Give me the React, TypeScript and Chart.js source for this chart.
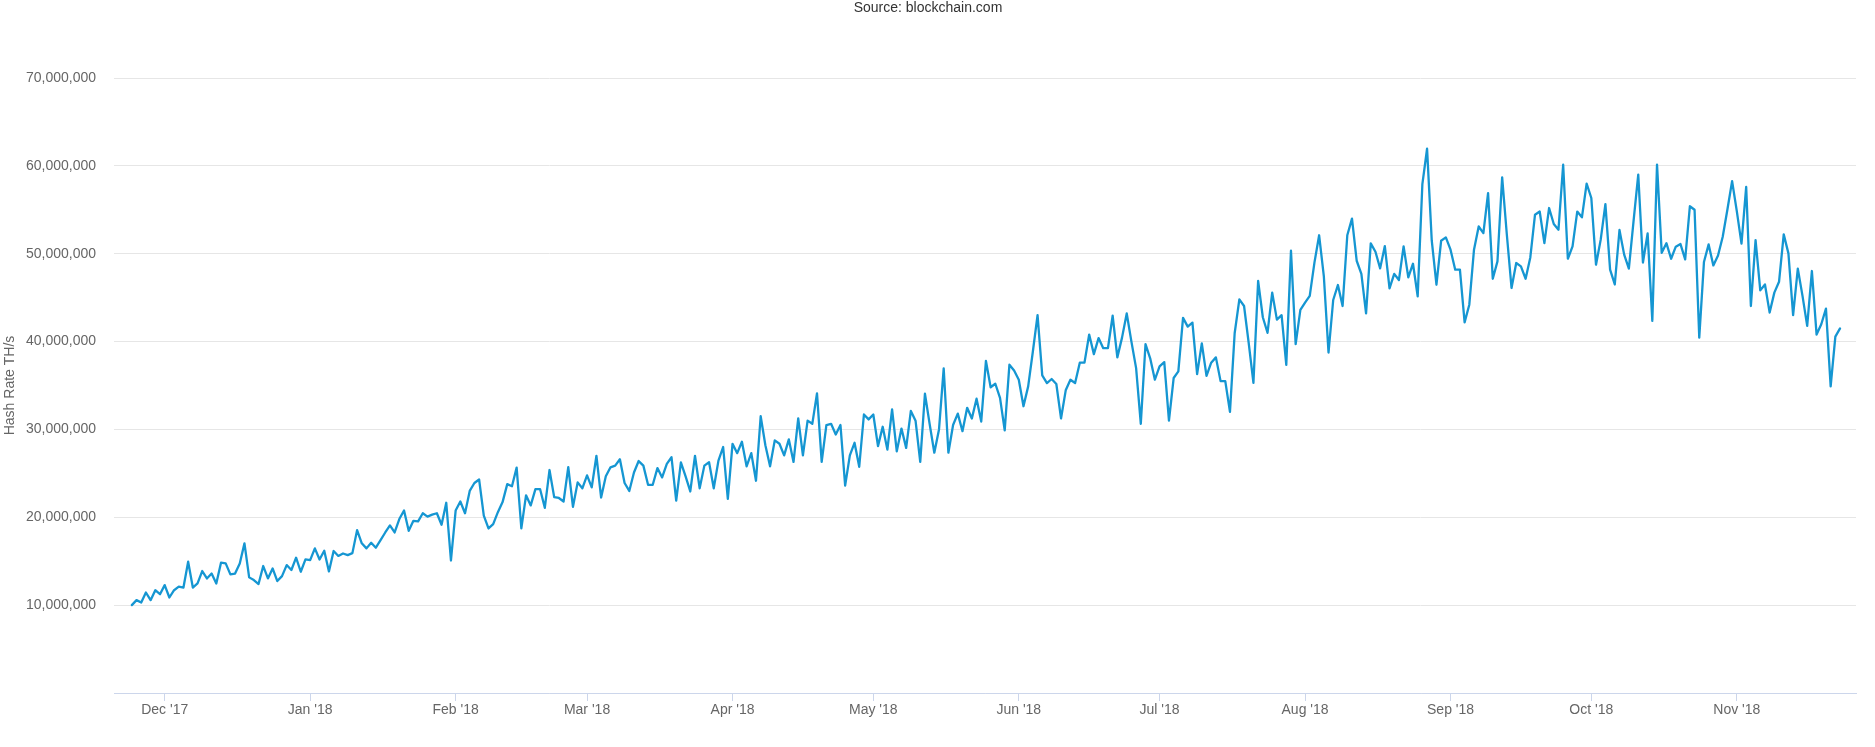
import React, { useEffect, useRef } from "react";
import { Chart, registerables } from "chart.js";

Chart.register(...registerables);

// First data day: 24 Nov 2017, one value per day (hash rate, millions of TH/s)
const START_DATE = Date.UTC(2017, 10, 24);

const hashRate: number[] = [
  // Nov 24 2017 ->
  10.0, 10.57, 10.3, 11.44, 10.57, 11.7, 11.25, 12.28, 10.87, 11.7,
  12.1, 12.0, 14.94, 12.0, 12.47, 13.88, 13.04, 13.6, 12.47, 14.83,
  14.75, 13.5, 13.6, 14.75, 17.03, 13.16, 12.85, 12.4, 14.45, 13.04,
  14.18, 12.74, 13.3, 14.56, 14.0, 15.4, 13.8, 15.2, 15.13, 16.46,
  15.2, 16.2, 13.84, 16.16, 15.6,
  15.88, 15.7, 15.92, 18.54, 17.04, 16.46, 17.1, 16.54, 17.4, 18.27,
  19.08, 18.27, 19.8, 20.77, 18.46, 19.6, 19.54, 20.46, 20.08, 20.3,
  20.46, 19.15, 21.65, 15.08, 20.77, 21.8, 20.46, 23.0, 23.9, 24.3,
  20.2, 18.73, 19.23, 20.58, 21.73, 23.77, 23.54, 25.65, 18.73, 22.5,
  21.35, 23.2, 23.2, 21.08, 25.38, 22.3,
  22.2, 21.8, 25.7, 21.2, 23.97, 23.3, 24.77, 23.4, 27.0, 22.25,
  24.66, 25.69, 25.88, 26.6, 23.9, 23.0, 25.1, 26.4, 25.88, 23.7,
  23.7, 25.6, 24.54, 26.07, 26.83, 21.9, 26.26, 24.66, 22.94, 27.0,
  23.3, 25.88, 26.26, 23.3, 26.45, 28.0, 22.1, 28.36, 27.3, 28.6,
  25.8, 27.3, 24.16, 31.5, 28.2, 25.8,
  28.75, 28.37, 27.04, 28.86, 26.3, 31.25, 27.04, 31.0, 30.64, 34.1,
  26.3, 30.5, 30.64, 29.43, 30.5, 23.6, 27.04, 28.48, 25.75, 31.7,
  31.14, 31.7, 28.1, 30.3, 27.7, 32.28, 27.5, 30.1, 27.9, 32.1,
  31.0, 26.3, 34.06, 30.64, 27.35, 30.0, 36.94, 27.35, 30.5, 31.8,
  29.8, 32.46, 31.25, 33.5,
  30.9, 37.8, 34.8, 35.2, 33.6, 29.9, 37.36, 36.7, 35.66, 32.64,
  34.9, 38.87, 43.0, 36.15, 35.28, 35.74, 35.17, 31.25, 34.45, 35.66,
  35.28, 37.6, 37.6, 40.8, 38.57, 40.4, 39.25, 39.25, 42.94, 38.2,
  40.45, 43.2, 40.0, 36.98, 30.64, 39.7, 38.1, 35.66, 37.17, 37.66,
  31.0, 35.85, 36.6, 42.7,
  41.7, 42.16, 36.3, 39.8, 36.1, 37.6, 38.2, 35.5, 35.5, 32.0,
  40.95, 44.8, 44.05, 39.8, 35.3, 46.9, 42.77, 41.0, 45.57, 42.5,
  43.0, 37.35, 50.34, 39.7, 43.6, 44.43, 45.2, 48.98, 52.1, 47.46,
  38.75, 44.73, 46.44, 44.05, 52.1, 54.0, 49.2, 47.7, 43.2, 51.17,
  50.23, 48.33, 50.87, 46.06, 47.7, 47.0,
  50.83, 47.3, 48.86, 45.14, 57.93, 61.95, 51.48, 46.47, 51.48, 51.86,
  50.46, 48.18, 48.18, 42.18, 44.2, 50.46, 53.1, 52.35, 56.9, 47.15,
  49.13, 58.7, 52.16, 46.1, 48.94, 48.56, 47.15, 49.58, 54.44, 54.8,
  51.2, 55.2, 53.38, 52.73, 60.13, 49.43, 50.83, 54.8, 54.14, 57.97,
  56.34, 48.75, 51.6, 55.65, 48.18,
  46.5, 52.7, 49.9, 48.3, 53.7, 59.0, 49.0, 52.3, 42.35, 60.15,
  50.1, 51.2, 49.43, 50.8, 51.1, 49.36, 55.4, 55.0, 40.45, 49.05,
  51.06, 48.67, 49.8, 51.93, 55.04, 58.26, 54.85, 51.14, 57.6, 44.05,
  51.55, 45.83, 46.5, 43.3, 45.57, 46.8, 52.2, 50.04, 43.0, 48.3,
  45.2, 41.78, 48.03, 40.8, 41.97, 43.75, 34.9, 40.57, 41.5,
];

const tickLabels: string[] = [
  "Dec '17", "Jan '18", "Feb '18", "Mar '18", "Apr '18", "May '18",
  "Jun '18", "Jul '18", "Aug '18", "Sep '18", "Oct '18", "Nov '18",
];
// [year, monthIndex] of each x tick (first of the month)
const tickMonths: [number, number][] = [
  [2017, 11], [2018, 0], [2018, 1], [2018, 2], [2018, 3], [2018, 4],
  [2018, 5], [2018, 6], [2018, 7], [2018, 8], [2018, 9], [2018, 10],
];
const yTickValues: number[] = [0, 10, 20, 30, 40, 50, 60, 70];

const DAY = 86400000;
const tickDays = tickMonths.map(([y, m]) => (Date.UTC(y, m, 1) - START_DATE) / DAY);

const FONT = "'Liberation Sans', Arial, Helvetica, sans-serif";

export default function App() {
  const ref = useRef<HTMLCanvasElement | null>(null);

  useEffect(() => {
    document.body.style.margin = "0";
    const canvas = ref.current;
    if (!canvas) return;
    const chart = new Chart(canvas, {
      type: "line",
      data: {
        datasets: [
          {
            label: "Hash Rate",
            data: hashRate.map((v, i) => ({ x: i, y: v * 1e6 })),
            borderColor: "#1596d2",
            backgroundColor: "#1596d2",
            borderWidth: 2.3,
            pointRadius: 0,
            tension: 0,
            borderJoinStyle: "round",
            borderCapStyle: "round",
            fill: false,
          },
        ],
      },
      options: {
        animation: false,
        responsive: false,
        events: [],
        layout: { padding: { top: 0, right: 19, bottom: 0, left: 0 } },
        plugins: {
          legend: { display: false },
          tooltip: { enabled: false },
          title: {
            display: true,
            text: "Source: blockchain.com",
            color: "#333333",
            font: { family: FONT, size: 14, weight: "normal" },
            padding: { top: 0, bottom: 61.2 },
          },
        },
        scales: {
          x: {
            type: "linear",
            min: -3.8,
            max: 367.4,
            afterBuildTicks: (scale: any) => {
              scale.ticks = tickDays.map((v) => ({ value: v }));
            },
            afterFit: (scale: any) => {
              scale.height = 54;
            },
            grid: {
              display: true,
              drawOnChartArea: false,
              drawTicks: true,
              tickLength: 8,
              tickColor: "#ccd6eb",
            },
            border: { display: true, color: "#ccd6eb", width: 1 },
            ticks: {
              autoSkip: false,
              maxRotation: 0,
              padding: 1,
              color: "#666666",
              font: { family: FONT, size: 14 },
              callback: (_v: any, index: number) => tickLabels[index],
            },
          },
          y: {
            type: "linear",
            min: 0,
            max: 70e6,
            afterBuildTicks: (scale: any) => {
              scale.ticks = yTickValues.map((v) => ({ value: v * 1e6 }));
            },
            afterFit: (scale: any) => {
              scale.width = 114;
            },
            grid: { color: "#e6e6e6", drawTicks: false, lineWidth: 1 },
            border: { display: false },
            ticks: {
              padding: 18,
              color: "#666666",
              font: { family: FONT, size: 14 },
              callback: (v: any) => (Number(v) === 0 ? "" : Number(v).toLocaleString("en-US")),
            },
            title: {
              display: true,
              text: "Hash Rate TH/s",
              color: "#666666",
              font: { family: FONT, size: 14 },
              padding: { top: 2, bottom: 0 },
            },
          },
        },
      },
    });
    return () => chart.destroy();
  }, []);

  return (
    <div style={{ position: "absolute", left: 0, top: 0, width: 1875, height: 747, background: "#ffffff" }}>
      <canvas ref={ref} width={1875} height={747} style={{ display: "block" }} />
    </div>
  );
}
